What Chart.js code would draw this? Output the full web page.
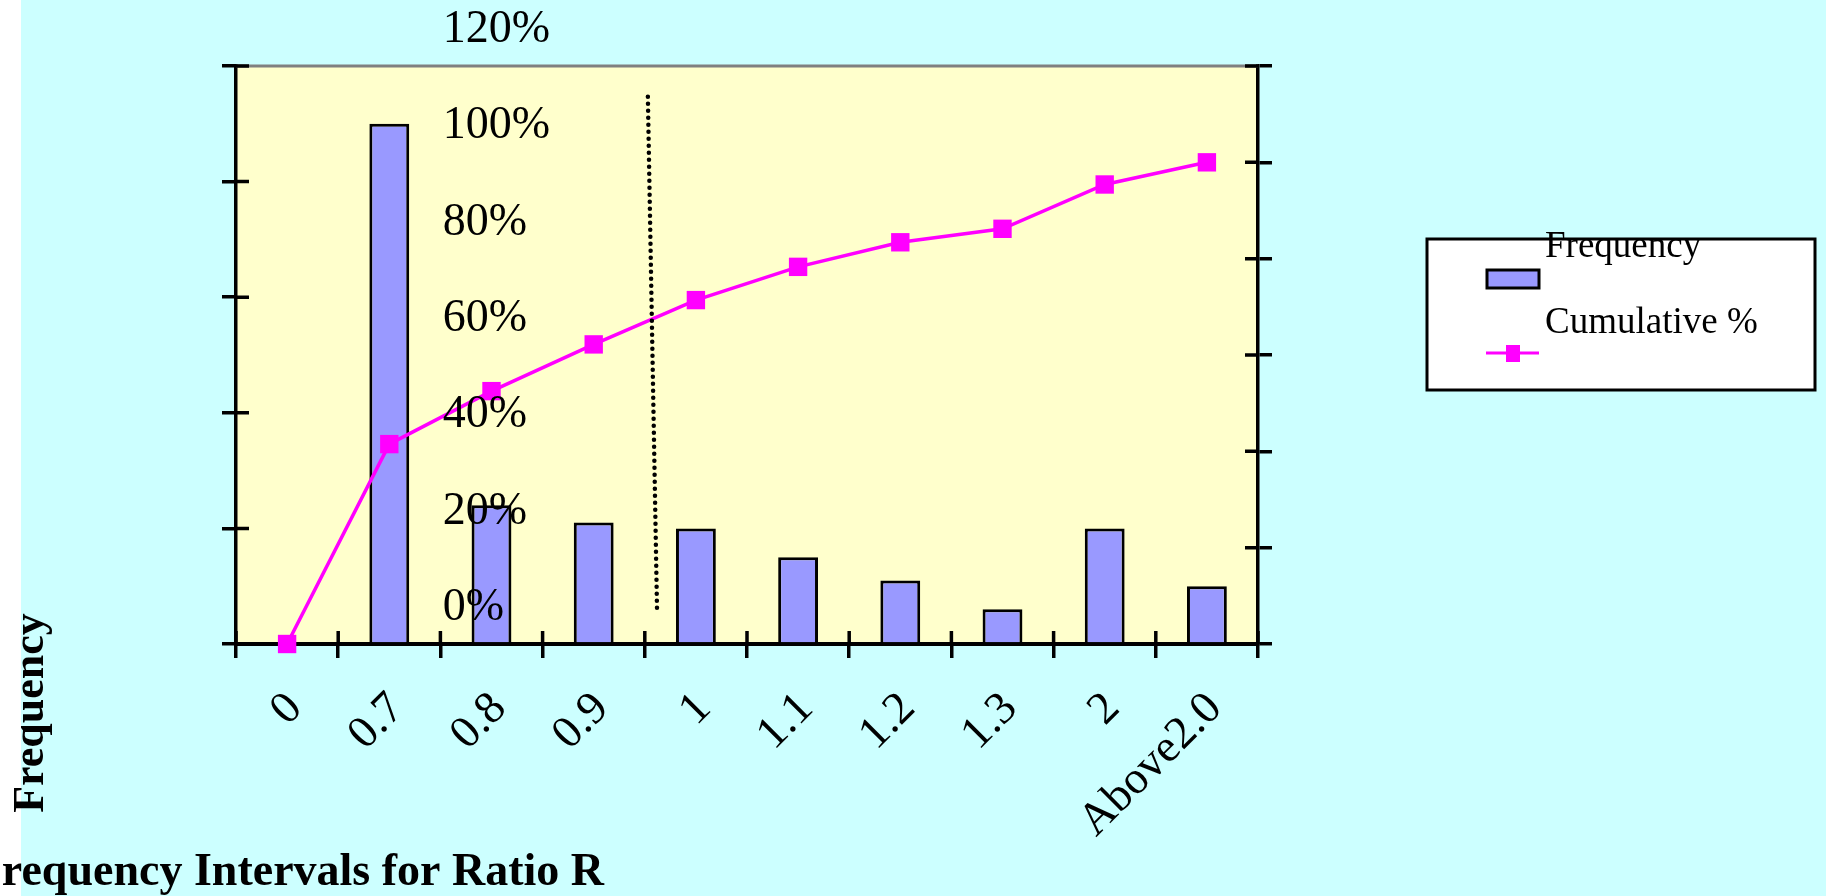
<!DOCTYPE html>
<html>
<head>
<meta charset="utf-8">
<title>Frequency Intervals for Ratio R</title>
<script src="https://cdn.jsdelivr.net/npm/chart.js@4.4.1/dist/chart.umd.min.js"></script>
<style>
  html, body { margin: 0; padding: 0; background: #ccffff; overflow: hidden; }
  #wrap { position: relative; width: 1826px; height: 896px; }
</style>
</head>
<body>
<div id="wrap"><canvas id="pareto" width="1826" height="896"></canvas></div>
<script>
// ── Data ─────────────────────────────────────────────────────────────────────
const categories    = ["0", "0.7", "0.8", "0.9", "1", "1.1", "1.2", "1.3", "2", "Above2.0"];
const frequency     = [0, 90, 24, 21, 20, 15, 11, 6, 20, 10];
const cumulativePct = [0, 41.5, 52.5, 62.2, 71.4, 78.3, 83.4, 86.2, 95.4, 100];
const freqAxis      = { min: 0, max: 100, step: 20 };   // left axis, ticks only
const pctAxis       = { min: 0, max: 120, step: 20 };   // right axis, 0% .. 120%

const SERIF = '"Liberation Serif", "Times New Roman", serif';
const BAR_FILL = "#9999ff";
const LINE_COL = "#ff00ff";

Chart.defaults.font.family = SERIF;
Chart.defaults.color = "#000";

// ── Plugins ──────────────────────────────────────────────────────────────────

// cyan page, white strip on the far left, pale yellow plot area
const backdrop = {
  id: "backdrop",
  beforeDraw(chart) {
    const { ctx, chartArea: a } = chart;
    ctx.save();
    ctx.fillStyle = "#ccffff";
    ctx.fillRect(0, 0, chart.width, chart.height);
    ctx.fillStyle = "#ffffff";
    ctx.fillRect(0, 0, 21, chart.height);
    ctx.fillStyle = "#ffffcc";
    ctx.fillRect(a.left, a.top, a.right - a.left, a.bottom - a.top);
    ctx.restore();
  },
};

// Excel-style ticks cross the axis line, so add the inner half + grey top edge
const frame = {
  id: "frame",
  afterDatasetsDraw(chart) {
    const { ctx, chartArea: a, scales: { x, y, y1 } } = chart;
    ctx.save();
    ctx.strokeStyle = "#808080";
    ctx.lineWidth = 3;
    ctx.beginPath();
    ctx.moveTo(a.left, a.top);
    ctx.lineTo(a.right, a.top);
    ctx.stroke();

    ctx.strokeStyle = "#000";
    ctx.lineWidth = 3.5;
    ctx.beginPath();
    y.ticks.forEach(t => {
      const py = y.getPixelForValue(t.value);
      ctx.moveTo(a.left, py); ctx.lineTo(a.left + 13, py);
    });
    y1.ticks.forEach(t => {
      const py = y1.getPixelForValue(t.value);
      ctx.moveTo(a.right, py); ctx.lineTo(a.right - 13, py);
    });
    for (let i = 0; i <= categories.length; i++) {
      const px = x.getPixelForValue(i - 0.5);
      ctx.moveTo(px, a.bottom); ctx.lineTo(px, a.bottom - 13);
    }
    ctx.stroke();

    // dotted cut-off marker between 0.9 and 1
    ctx.setLineDash([0, 7]);
    ctx.lineCap = "round";
    ctx.lineWidth = 4.5;
    ctx.beginPath();
    ctx.moveTo(x.getPixelForValue(3.53), y1.getPixelForValue(113.6));
    ctx.lineTo(x.getPixelForValue(3.62), y1.getPixelForValue(6.6));
    ctx.stroke();
    ctx.restore();
  },
};

// axis titles sit where the original put them (partly off the page edge)
const titles = {
  id: "titles",
  afterDraw(chart) {
    const { ctx } = chart;
    ctx.save();
    ctx.fillStyle = "#000";
    ctx.font = `bold 44px ${SERIF}`;
    ctx.textBaseline = "middle";
    ctx.textAlign = "center";
    ctx.translate(32, 713);
    ctx.rotate(-Math.PI / 2);
    ctx.fillText("Frequency", 0, 0);
    ctx.restore();

    ctx.save();
    ctx.fillStyle = "#000";
    ctx.font = `bold 46px ${SERIF}`;
    ctx.textBaseline = "alphabetic";
    ctx.textAlign = "right";
    ctx.fillText("Frequency Intervals for Ratio R", 604, 885);
    ctx.restore();
  },
};

// boxed legend, label text riding above its swatch like the original
const boxLegend = {
  id: "boxLegend",
  afterDraw(chart) {
    const { ctx } = chart;
    const [bars, line] = chart.data.datasets;
    ctx.save();
    ctx.fillStyle = "#fff";
    ctx.strokeStyle = "#000";
    ctx.lineWidth = 3;
    ctx.fillRect(1427, 239, 388, 151);
    ctx.strokeRect(1427, 239, 388, 151);

    ctx.fillStyle = bars.backgroundColor;
    ctx.fillRect(1487, 270, 52, 18);
    ctx.strokeRect(1487, 270, 52, 18);

    ctx.strokeStyle = line.borderColor;
    ctx.beginPath();
    ctx.moveTo(1486, 353); ctx.lineTo(1539, 353);
    ctx.stroke();
    ctx.fillStyle = line.pointBackgroundColor;
    ctx.fillRect(1506, 345, 14, 17);

    ctx.fillStyle = "#000";
    ctx.font = `37px ${SERIF}`;
    ctx.textAlign = "left";
    ctx.textBaseline = "alphabetic";
    ctx.fillText(bars.label, 1545, 257);
    ctx.fillText(line.label, 1545, 333);
    ctx.restore();
  },
};

// fixed scale sizes; drop the tick-padding that Chart.js adds above/below
function fixWidth(w) {
  return s => { s.width = w; s.paddingTop = 0; s.paddingBottom = 0; };
}

// ── Chart ────────────────────────────────────────────────────────────────────

new Chart(document.getElementById("pareto"), {
  data: {
    labels: categories,
    datasets: [
      {
        type: "bar",
        label: "Frequency",
        data: frequency,
        yAxisID: "y",
        backgroundColor: BAR_FILL,
        borderColor: "#000",
        borderWidth: 3,
        categoryPercentage: 1,
        barPercentage: 0.39,
        order: 2,
      },
      {
        type: "line",
        label: "Cumulative %",
        data: cumulativePct,
        yAxisID: "y1",
        borderColor: LINE_COL,
        borderWidth: 3.5,
        pointStyle: "rect",
        pointRadius: 13,
        pointBackgroundColor: LINE_COL,
        pointBorderWidth: 0,
        tension: 0,
        clip: false,
        order: 1,
      },
    ],
  },
  options: {
    responsive: false,
    animation: false,
    layout: { padding: { top: 66, left: 0, right: 0, bottom: 0 } },
    plugins: {
      legend: { display: false },
      tooltip: { enabled: false },
    },
    scales: {
      x: {
        offset: true,
        grid: { offset: true, drawOnChartArea: false, tickLength: 14, color: "#000", lineWidth: 3.5 },
        border: { color: "#000", width: 4 },
        ticks: {
          autoSkip: false, minRotation: 45, maxRotation: 45,
          padding: 24, labelOffset: 8, font: { size: 46 },
        },
        afterFit: s => { s.height = 252; s.paddingLeft = 0; s.paddingRight = 0; },
      },
      y: {
        position: "left",
        min: freqAxis.min,
        max: freqAxis.max,
        ticks: { stepSize: freqAxis.step, display: false },
        grid: { drawOnChartArea: false, tickLength: 14, color: "#000", lineWidth: 3.5 },
        border: { color: "#000", width: 3.5 },
        afterFit: fixWidth(236),
      },
      y1: {
        position: "right",
        min: pctAxis.min,
        max: pctAxis.max,
        ticks: {
          z: 1,   // percent labels float over the bars, as in the original
          stepSize: pctAxis.step,
          callback: v => v + "%",
          mirror: true,
          crossAlign: "far",
          padding: -708,
          labelOffset: -36,
          font: { size: 46 },
        },
        grid: { drawOnChartArea: false, tickLength: 14, color: "#000", lineWidth: 3.5 },
        border: { color: "#000", width: 3.5 },
        afterFit: fixWidth(568),
      },
    },
  },
  plugins: [backdrop, frame, titles, boxLegend],
});
</script>
</body>
</html>
